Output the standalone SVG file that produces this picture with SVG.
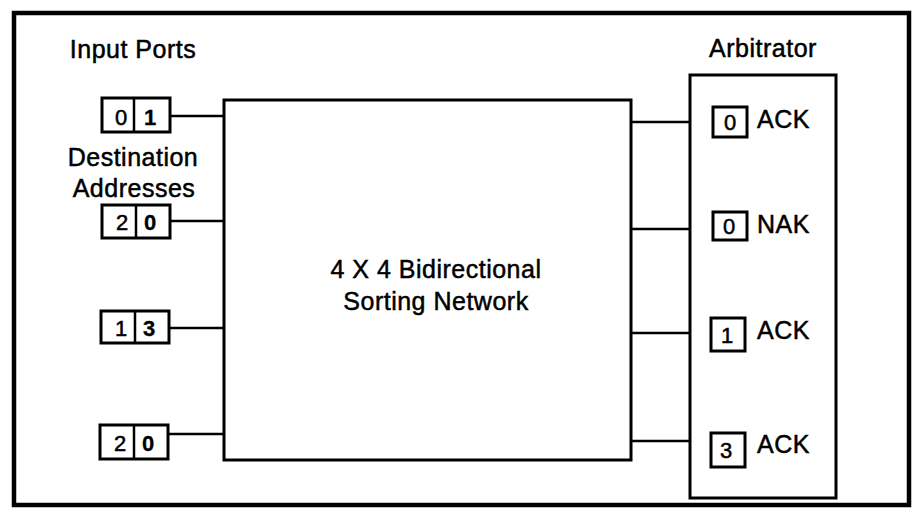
<svg xmlns="http://www.w3.org/2000/svg" width="914" height="515" viewBox="0 0 914 515">
<style>
text{font-family:"Liberation Sans",Arial,Helvetica,sans-serif;fill:#000;stroke:#000;stroke-width:0.5}
.lbl{font-size:25px;letter-spacing:0.5px}
.dig{font-size:22px}
.b{font-weight:bold;stroke-width:0.3}
.box{fill:#fff;stroke:#000;stroke-width:3}
.cell{fill:#fff;stroke:#000;stroke-width:3}
.wire{stroke:#000;stroke-width:2.5;fill:none}
</style>
<rect width="914" height="515" fill="#fff"/>
<rect id="frame" x="14" y="13" width="895" height="492" fill="none" stroke="#000" stroke-width="4.5"/>
<g id="connectors">
<line class="wire" x1="170" y1="116" x2="224" y2="116"/>
<line class="wire" x1="170" y1="221" x2="224" y2="221"/>
<line class="wire" x1="169" y1="328" x2="224" y2="328"/>
<line class="wire" x1="168" y1="434" x2="224" y2="434"/>
<line class="wire" x1="631" y1="122" x2="690" y2="122"/>
<line class="wire" x1="631" y1="229" x2="690" y2="229"/>
<line class="wire" x1="631" y1="333" x2="690" y2="333"/>
<line class="wire" x1="631" y1="441" x2="690" y2="441"/>
</g>
<text class="lbl" x="133" y="58" text-anchor="middle">Input Ports</text>
<text class="lbl" x="133" y="166" text-anchor="middle">Destination</text>
<text class="lbl" x="134" y="197" text-anchor="middle">Addresses</text>
<g id="port0">
<rect class="cell" x="102" y="98" width="68" height="34"/>
<line class="wire" x1="134" y1="98" x2="134" y2="132"/>
<text class="dig" x="121" y="125" text-anchor="middle">0</text>
<text class="dig b" x="150" y="125" text-anchor="middle">1</text>
</g>
<g id="port1">
<rect class="cell" x="102" y="205" width="68" height="33"/>
<line class="wire" x1="136" y1="205" x2="136" y2="238"/>
<text class="dig" x="122" y="230" text-anchor="middle">2</text>
<text class="dig b" x="150" y="230" text-anchor="middle">0</text>
</g>
<g id="port2">
<rect class="cell" x="101" y="311" width="68" height="32"/>
<line class="wire" x1="135" y1="311" x2="135" y2="343"/>
<text class="dig" x="121" y="336" text-anchor="middle">1</text>
<text class="dig b" x="149" y="336" text-anchor="middle">3</text>
</g>
<g id="port3">
<rect class="cell" x="100" y="425" width="68" height="34"/>
<line class="wire" x1="134" y1="425" x2="134" y2="459"/>
<text class="dig" x="120" y="451" text-anchor="middle">2</text>
<text class="dig b" x="148" y="451" text-anchor="middle">0</text>
</g>
<g id="network">
<rect class="box" x="224" y="100" width="407" height="360"/>
<text class="lbl" x="436" y="278" text-anchor="middle">4 X 4 Bidirectional</text>
<text class="lbl" x="436" y="310" text-anchor="middle">Sorting Network</text>
</g>
<text class="lbl" x="763" y="57" text-anchor="middle">Arbitrator</text>
<g id="arbitrator">
<rect class="box" x="690" y="75" width="146" height="423"/>
<rect class="cell" x="713" y="107" width="34" height="30"/>
<text class="dig" x="730" y="130" text-anchor="middle">0</text>
<text class="lbl" x="757" y="128">ACK</text>
<rect class="cell" x="713" y="212" width="34" height="28"/>
<text class="dig" x="729" y="234" text-anchor="middle">0</text>
<text class="lbl" x="757" y="233">NAK</text>
<rect class="cell" x="711" y="318" width="34" height="33"/>
<text class="dig" x="727" y="343" text-anchor="middle">1</text>
<text class="lbl" x="757" y="339">ACK</text>
<rect class="cell" x="711" y="433" width="34" height="34"/>
<text class="dig" x="726" y="458" text-anchor="middle">3</text>
<text class="lbl" x="757" y="453">ACK</text>
</g>
</svg>
